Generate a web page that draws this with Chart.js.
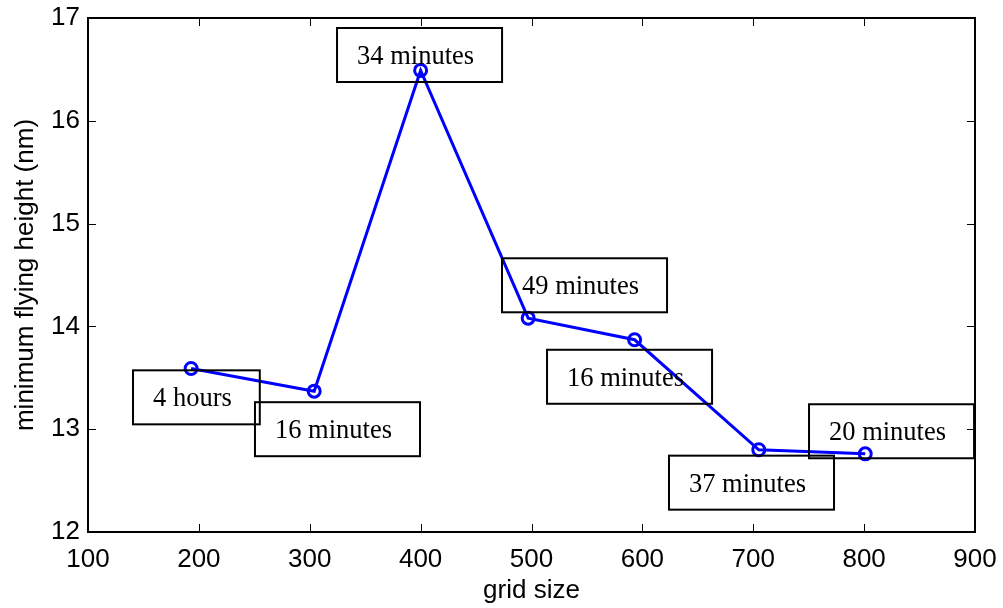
<!DOCTYPE html>
<html>
<head>
<meta charset="utf-8">
<script src="https://cdn.jsdelivr.net/npm/chart.js@4.4.1/dist/chart.umd.min.js"></script>
<style>
html,body{margin:0;padding:0;background:#fff;}
#wrap{width:1003px;height:608px;}
</style>
</head>
<body>
<div id="wrap"><canvas id="c" width="1003" height="608"></canvas></div>
<script>
// ---- data ----
const gridSize=[193,304,400,497,593,705,801];
const minHeight=[13.59,13.37,16.49,14.08,13.87,12.80,12.76];
const noteText=['4 hours','16 minutes','34 minutes','49 minutes','16 minutes','37 minutes','20 minutes'];
const noteX=[140.6,250.6,324.6,473.4,514,624,750.3];   // left edge of each note box (data units)
const noteY=[13.31,13.00,16.64,14.40,13.51,12.48,12.98]; // vertical middle of each box
const xTicks=[100,200,300,400,500,600,700,800,900];
const yTicks=[12,13,14,15,16,17];

const SANS='"Liberation Sans", Arial, sans-serif';
const SERIF='"Liberation Serif", "Times New Roman", serif';

// box around plot + inward ticks on all four sides (matlab style)
const frame={
  id:'frame',
  afterDraw(chart){
    const {ctx,chartArea:a,scales:{x,y}}=chart;
    ctx.save();
    ctx.strokeStyle='#000';
    ctx.lineWidth=1;
    const tl=8;
    ctx.beginPath();
    xTicks.forEach(v=>{const px=Math.round(x.getPixelForValue(v))+.5;
      ctx.moveTo(px,a.bottom);ctx.lineTo(px,a.bottom-tl);
      ctx.moveTo(px,a.top);ctx.lineTo(px,a.top+tl);});
    yTicks.forEach(v=>{const py=Math.round(y.getPixelForValue(v))+.5;
      ctx.moveTo(a.left,py);ctx.lineTo(a.left+tl,py);
      ctx.moveTo(a.right,py);ctx.lineTo(a.right-tl,py);});
    ctx.stroke();
    ctx.lineWidth=2;
    ctx.strokeRect(a.left,a.top,a.right-a.left,a.bottom-a.top);
    ctx.restore();
  },
  afterDatasetsDraw(chart){
    const {ctx,scales:{x,y}}=chart;
    ctx.save();
    ctx.font='26.5px '+SERIF;
    ctx.fillStyle='#000';ctx.strokeStyle='#000';ctx.lineWidth=2;
    ctx.textBaseline='alphabetic';
    noteText.forEach((t,i)=>{
      const x0=x.getPixelForValue(noteX[i]);
      const yc=y.getPixelForValue(noteY[i]);
      const w=ctx.measureText(t).width;
      ctx.strokeRect(x0,yc-27,w+48,54);
      ctx.fillText(t,x0+20,yc+9);
    });
    ctx.restore();
  }
};

new Chart(document.getElementById('c').getContext('2d'),{
  type:'line',
  data:{datasets:[{
    data:gridSize.map((g,i)=>({x:g,y:minHeight[i]})),
    borderColor:'#0000ff',borderWidth:3,
    pointRadius:6,pointHoverRadius:6,pointBorderWidth:3,
    pointBackgroundColor:'rgba(0,0,0,0)',pointBorderColor:'#0000ff',
    tension:0,fill:false
  }]},
  options:{
    responsive:false,animation:false,
    layout:{padding:{top:18,right:28,left:0,bottom:0}},
    plugins:{legend:{display:false},tooltip:{enabled:false}},
    scales:{
      x:{type:'linear',min:100,max:900,
        afterFit:s=>{s.height=76;s.paddingLeft=0;s.paddingRight=0;},
        afterBuildTicks:s=>{s.ticks=xTicks.map(v=>({value:v}));},
        grid:{display:false},border:{display:false},
        ticks:{color:'#000',font:{family:SANS,size:26},padding:4,maxRotation:0,autoSkip:false},
        title:{display:true,text:'grid size',color:'#000',font:{family:SANS,size:26},padding:{top:0,bottom:2}}},
      y:{min:12,max:17,
        afterFit:s=>{s.width=88;s.paddingTop=0;s.paddingBottom=0;},
        afterBuildTicks:s=>{s.ticks=yTicks.map(v=>({value:v}));},
        grid:{display:false},border:{display:false},
        ticks:{color:'#000',font:{family:SANS,size:26},padding:0,autoSkip:false},
        title:{display:true,text:'minimum flying height (nm)',color:'#000',font:{family:SANS,size:26},padding:{top:10,bottom:0}}}
    }
  },
  plugins:[frame]
});
</script>
</body>
</html>
